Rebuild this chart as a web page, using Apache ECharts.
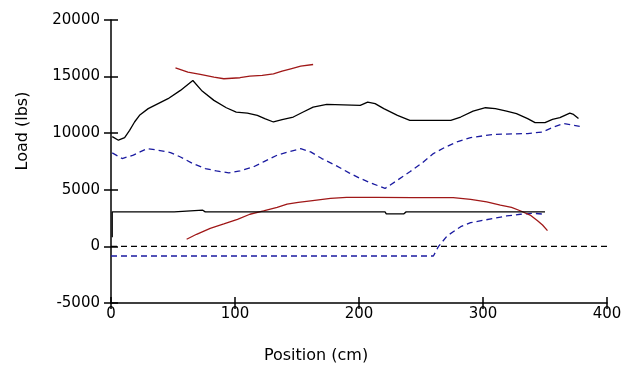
<!DOCTYPE html>
<html>
<head>
<meta charset="utf-8">
<script src="https://cdn.jsdelivr.net/npm/echarts@6/dist/echarts.min.js"></script>
<style>
  html, body { margin: 0; padding: 0; background: #fff; }
  #chart { width: 632px; height: 368px; }
</style>
</head>
<body>
<div id="chart"></div>
<script>
// [position cm, load lbs] pairs
const blackUpper = [
  [1, 9700], [6, 9380], [11, 9610], [15, 10250], [19, 10990], [23, 11580], [30, 12170],
  [38, 12610], [46, 13050], [56, 13780], [66, 14660], [73, 13780], [83, 12900],
  [93, 12250], [101, 11870], [110, 11780], [118, 11580], [124, 11290], [131, 10990],
  [138, 11200], [147, 11430], [155, 11870], [163, 12310], [174, 12540], [201, 12460],
  [207, 12750], [213, 12610], [220, 12170], [231, 11580], [241, 11140], [274, 11140],
  [282, 11430], [292, 11950], [302, 12250], [310, 12170], [319, 11950], [327, 11730],
  [336, 11290], [342, 10930], [350, 10930], [356, 11220], [362, 11370], [370, 11780],
  [373, 11660], [377, 11290]
];
const redUpper = [
  [52, 15780], [62, 15390], [72, 15190], [83, 14950], [91, 14810], [104, 14900],
  [112, 15040], [122, 15100], [131, 15250], [138, 15480], [145, 15690], [153, 15920],
  [163, 16070]
];
const blueUpper = [
  [1, 8260], [9, 7760], [18, 8060], [29, 8640], [38, 8500], [48, 8290], [56, 7900],
  [66, 7320], [76, 6880], [85, 6670], [95, 6500], [104, 6670], [115, 7030], [123, 7470],
  [134, 8060], [143, 8350], [153, 8640], [161, 8350], [170, 7760], [181, 7170],
  [192, 6500], [201, 6000], [212, 5500], [221, 5120], [231, 5850], [241, 6590],
  [251, 7380], [260, 8200], [270, 8790], [279, 9230], [290, 9610], [309, 9900],
  [336, 9970], [348, 10110], [357, 10550], [365, 10850], [369, 10780], [378, 10610]
];
const redLower = [
  [61, 630], [69, 1070], [80, 1600], [91, 1980], [102, 2390], [112, 2840], [123, 3130],
  [134, 3450], [142, 3740], [151, 3890], [161, 4030], [177, 4240], [190, 4330],
  [214, 4330], [243, 4300], [276, 4300], [290, 4160], [303, 3940], [314, 3650],
  [323, 3450], [330, 3150], [338, 2770], [344, 2270], [348, 1890], [352, 1390]
];
const blackLower = [
  [1, 800], [1, 3050], [51, 3050], [52, 3200], [74, 3200], [76, 3050], [221, 3050],
  [222, 2870], [236, 2870], [238, 3050], [350, 3050]
];
const zeroLine = [[0, 0], [400, 0]];
const blueLower = [
  [0, -850], [260, -850], [264, -20], [271, 920], [282, 1740], [290, 2100], [309, 2480],
  [319, 2690], [330, 2840], [341, 2920], [350, 2840]
];

const RED = '#a01818';
const BLUE = '#1a1aa0';
const FONT = 'DejaVu Sans';

const chart = echarts.init(document.getElementById('chart'));

function line(data, color, type) {
  return {
    type: 'line',
    data: data,
    symbol: 'none',
    silent: true,
    animation: false,
    lineStyle: { color: color, width: 1.3, type: type || 'solid' }
  };
}

const tickStyle = { color: '#000', width: 1.5 };
const plain = (v) => String(v);

const option = {
  animation: false,
  grid: { left: 111, right: 25, top: 20, bottom: 65 },
  xAxis: [
    {
      type: 'value', min: 0, max: 400, interval: 100, position: 'bottom',
      axisLine: { show: true, onZero: false, lineStyle: { color: '#000', width: 1.5 } },
      axisTick: { show: true, length: 6, lineStyle: tickStyle },
      axisLabel: { color: '#000', fontFamily: FONT, fontSize: 15, margin: 4, formatter: plain },
      splitLine: { show: false }
    },
    {
      // second copy of the axis, only for the inner half of the crossing ticks
      type: 'value', min: 0, max: 400, interval: 100, position: 'bottom', offset: 0,
      axisLine: { show: true, onZero: false, lineStyle: { color: 'rgba(0,0,0,0)' } },
      axisTick: { show: true, inside: true, length: 6, lineStyle: tickStyle },
      axisLabel: { show: false }, splitLine: { show: false }
    }
  ],
  yAxis: [
    {
      type: 'value', min: -5000, max: 20000, interval: 5000, position: 'left',
      axisLine: { show: true, onZero: false, lineStyle: { color: '#000', width: 1.5 } },
      axisTick: { show: true, length: 7, lineStyle: tickStyle },
      axisLabel: { color: '#000', fontFamily: FONT, fontSize: 15, margin: 11, formatter: plain },
      splitLine: { show: false }
    },
    {
      type: 'value', min: -5000, max: 20000, interval: 5000, position: 'left', offset: 0,
      axisLine: { show: true, onZero: false, lineStyle: { color: 'rgba(0,0,0,0)' } },
      axisTick: { show: true, inside: true, length: 7, lineStyle: tickStyle },
      axisLabel: { show: false }, splitLine: { show: false }
    }
  ],
  graphic: [
    {
      type: 'text', x: 316, y: 356,
      style: { text: 'Position (cm)', fontFamily: FONT, fontSize: 16, fill: '#000',
               textAlign: 'center', textVerticalAlign: 'middle' }
    },
    {
      type: 'text', x: 23, y: 131, rotation: Math.PI / 2,
      style: { text: 'Load (lbs)', fontFamily: FONT, fontSize: 16, fill: '#000',
               textAlign: 'center', textVerticalAlign: 'middle' }
    }
  ],
  series: [
    line(zeroLine, '#000', [6, 4]),
    line(blueLower, BLUE, [6, 4]),
    line(blueUpper, BLUE, [6, 4]),
    line(redLower, RED),
    line(redUpper, RED),
    line(blackLower, '#000'),
    line(blackUpper, '#000')
  ]
};

chart.setOption(option);
</script>
</body>
</html>
